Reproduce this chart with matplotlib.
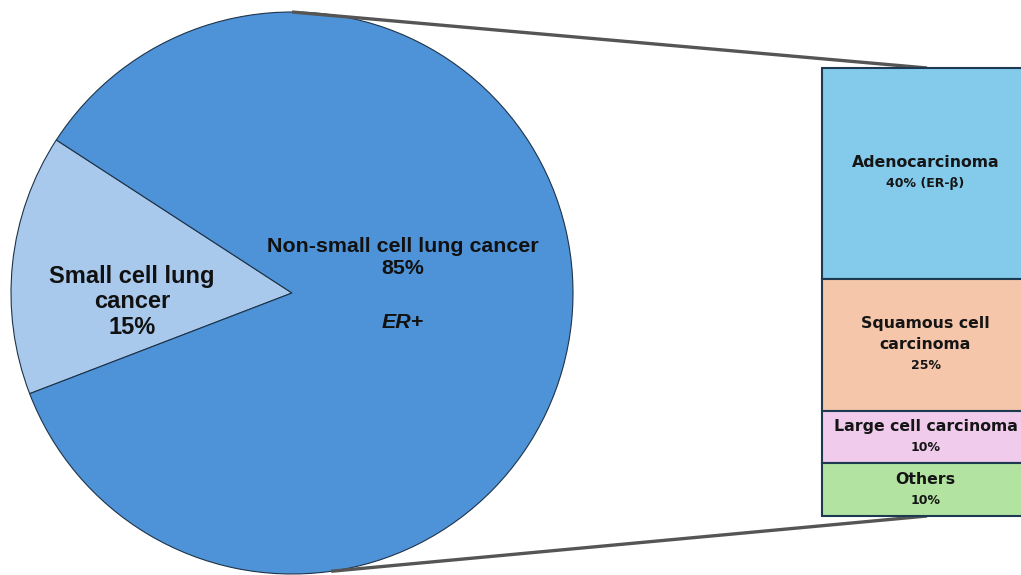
import matplotlib
matplotlib.use("Agg")
import matplotlib.pyplot as plt
from matplotlib.patches import Rectangle
import numpy as np

# Lung cancer types (share of all cases, %)
main_types = ["Small cell lung\ncancer", "Non-small cell lung cancer"]
main_values = [15, 85]
main_colors = ["#A8C9EB", "#4E93D8"]

# Non-small cell subtypes (share of all cases, %)
sub_types = ["Adenocarcinoma", "Squamous cell\ncarcinoma", "Large cell carcinoma", "Others"]
sub_values = [40, 25, 10, 10]
sub_notes = [" (ER-β)", "", "", ""]
sub_colors = ["#84CAEB", "#F5C6AA", "#F0CBEC", "#B3E3A1"]

W, H = 1021, 575
fig = plt.figure(figsize=(W / 100, H / 100), dpi=100)
ax = fig.add_axes([0, 0, 1, 1])

# ---- pie of the two main types ----
cx, cy, r = 292, H - 293, 281
ax.pie(main_values, colors=main_colors, startangle=147, counterclock=True,
       center=(cx, cy), radius=r, frame=True,
       wedgeprops=dict(edgecolor="#1E3348", linewidth=0.8))

lbl_font = dict(family="Liberation Sans", fontweight="bold", color="#111111",
                ha="center", va="center")
ax.text(132, H - 302, f"{main_types[0]}\n{main_values[0]}%", fontsize=17,
        linespacing=1.15, **lbl_font)
ax.text(403, H - 257, f"{main_types[1]}\n{main_values[1]}%", fontsize=15.4,
        linespacing=1.2, **lbl_font)
ax.text(403, H - 322, "ER+", fontsize=15.4, style="italic", **lbl_font)

# ---- stacked bar of subtypes ----
bx0, bx1 = 822, 1029
b_top, b_bot = H - 68, H - 516
scale = (b_top - b_bot) / sum(sub_values)
step = 21
xc = (bx0 + bx1) / 2
y = b_top
bar_font = dict(family="DejaVu Sans", fontweight="bold", color="#151515",
                ha="center", va="center", zorder=4)
for name, val, note, col in zip(sub_types, sub_values, sub_notes, sub_colors):
    h = val * scale
    ax.add_patch(Rectangle((bx0, y - h), bx1 - bx0, h, facecolor=col,
                           edgecolor="#1D3A50", linewidth=1.5, zorder=3))
    mid = y - h / 2
    lines = name.split("\n")
    n = len(lines) + 1
    first = mid + step * (n - 1) / 2
    for i, ln in enumerate(lines):
        ax.text(xc, first - i * step, ln, fontsize=11.3, **bar_font)
    ax.text(xc, first - len(lines) * step, f"{val}%{note}", fontsize=9,
            **bar_font)
    y -= h

# ---- connector lines from pie to bar ----
bmid = 927
a_top, a_bot = np.deg2rad(90), np.deg2rad(-82)
ax.plot([cx + r * np.cos(a_top), bmid], [cy + r * np.sin(a_top), b_top],
        color="#555555", linewidth=2.4, solid_capstyle="butt", zorder=2)
ax.plot([cx + r * np.cos(a_bot), bmid], [cy + r * np.sin(a_bot), b_bot],
        color="#555555", linewidth=2.4, solid_capstyle="butt", zorder=2)

ax.set_xlim(0, W)
ax.set_ylim(0, H)
ax.set_aspect("auto")
ax.axis("off")
fig.savefig("out.png", dpi=100, facecolor="white")
